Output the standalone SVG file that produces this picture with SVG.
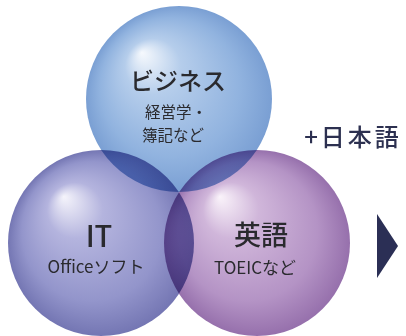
<svg xmlns="http://www.w3.org/2000/svg" width="406" height="336" viewBox="0 0 406 336">
<defs>
<radialGradient id="gBlue" cx="0.5" cy="0.5" r="0.5" fx="0.3" fy="0.25">
<stop offset="0" stop-color="#f6f9fd"/>
<stop offset="0.3" stop-color="#b5cdeb"/>
<stop offset="0.75" stop-color="#91b3df"/>
<stop offset="1" stop-color="#7a9fd3"/>
</radialGradient>
<radialGradient id="gIT" cx="0.5" cy="0.5" r="0.5" fx="0.3" fy="0.25">
<stop offset="0" stop-color="#f5f4fb"/>
<stop offset="0.3" stop-color="#b4b4de"/>
<stop offset="0.75" stop-color="#9395cb"/>
<stop offset="1" stop-color="#7476b3"/>
</radialGradient>
<radialGradient id="gEn" cx="0.5" cy="0.5" r="0.5" fx="0.3" fy="0.25">
<stop offset="0" stop-color="#faf3fa"/>
<stop offset="0.3" stop-color="#d0b6da"/>
<stop offset="0.75" stop-color="#b493c5"/>
<stop offset="1" stop-color="#9670ac"/>
</radialGradient>
</defs>
<style>
.c{mix-blend-mode:multiply}
text{font-family:"Noto Sans CJK JP","Noto Sans",sans-serif;text-anchor:middle;fill:#2a2a2e}
.t1{font-size:24px;font-weight:500}
.t2{font-size:15.5px}
.t3{font-size:17px}
.big{font-size:29px;font-weight:500}
.jp{font-size:24px;letter-spacing:3px;fill:#2c3050;font-weight:500}
</style>
<rect width="406" height="336" fill="#ffffff"/>
<g id="circles">
<circle class="c" cx="179" cy="99" r="93" fill="url(#gBlue)"/>
<circle class="c" cx="101" cy="243" r="93" fill="url(#gIT)"/>
<circle class="c" cx="257" cy="243" r="93" fill="url(#gEn)"/>
</g>
<g id="node-business">
<text class="t1" x="178" y="90">ビジネス</text>
<text class="t2" x="176" y="118">経営学・</text>
<text class="t2" x="173" y="141">簿記など</text>
</g>
<g id="node-it">
<text class="big" x="99" y="247">IT</text>
<text class="t3" x="96" y="273">Officeソフト</text>
</g>
<g id="node-english">
<text class="big" x="261" y="245" style="font-size:27px">英語</text>
<text class="t3" x="255" y="274">TOEICなど</text>
</g>
<g id="node-japanese">
<text class="jp" x="353" y="146">+日本語</text>
</g>
<g id="connectors">
<polygon points="377,214 398,246 377,278" fill="#2b2f55"/>
</g>
</svg>
